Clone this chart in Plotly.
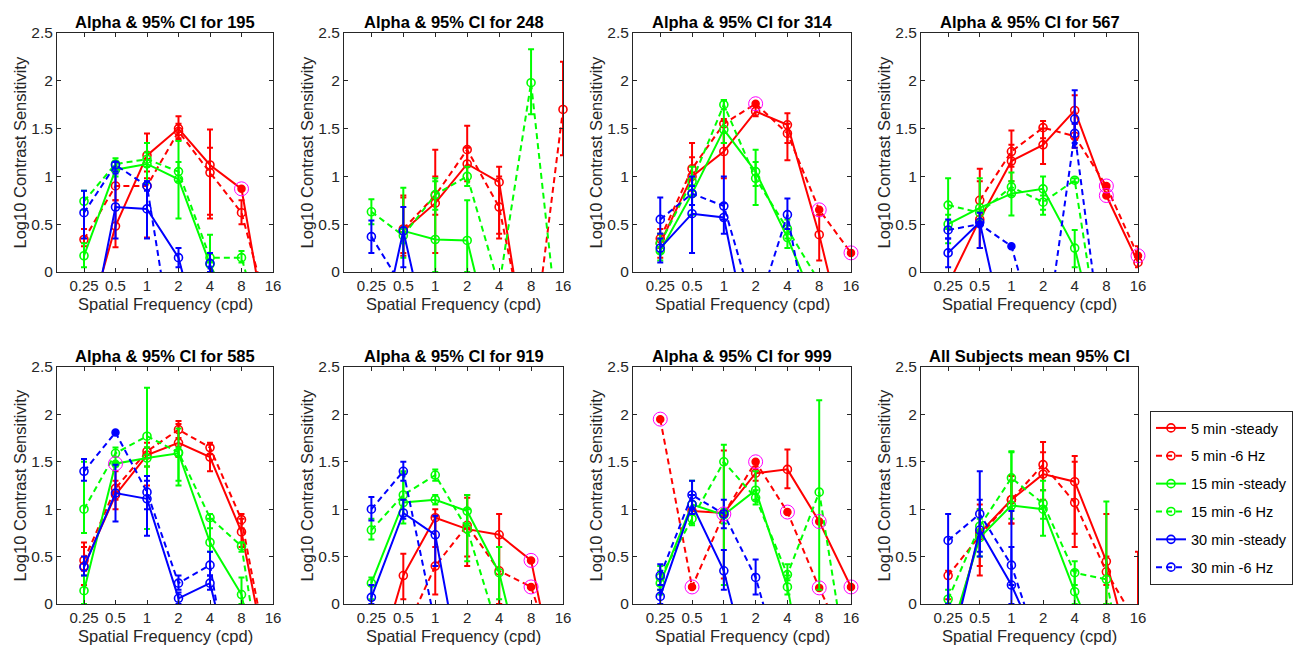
import math
import plotly.graph_objects as go

N = None

FREQS = [0.25, 0.5, 1, 2, 4, 8, 16]
FREQ_LABELS = ['0.25', '0.5', '1', '2', '4', '8', '16']
Y_TICKS = [0, 0.5, 1, 1.5, 2, 2.5]
Y_TICK_LABELS = ['0', '0.5', '1', '1.5', '2', '2.5']

SERIES_NAMES = ['5 min -steady', '5 min -6 Hz', '15 min -steady',
                '15 min -6 Hz', '30 min -steady', '30 min -6 Hz']
SERIES_COLORS = ['#FF0000', '#FF0000', '#00FF00', '#00FF00', '#0000FF', '#0000FF']
SERIES_DASH = ['solid', '6px,4px', 'solid', '6px,4px', 'solid', '6px,4px']

PANEL_TITLES = ['Alpha & 95% CI for 195', 'Alpha & 95% CI for 248',
                'Alpha & 95% CI for 314', 'Alpha & 95% CI for 567',
                'Alpha & 95% CI for 585', 'Alpha & 95% CI for 919',
                'Alpha & 95% CI for 999', 'All Subjects mean 95% CI']

# rows: 5 steady, 5 6Hz, 15 steady, 15 6Hz, 30 steady, 30 6Hz ; columns: FREQS
S195_MEAN = [
    [-0.69, 0.48, 1.22, 1.50, 1.12, 0.87, -1.02],
    [0.34, 0.90, 0.90, 1.47, 1.04, 0.62, -0.60],
    [0.17, 1.07, 1.13, 0.97, 0.08, -0.60, N],
    [0.74, 1.13, 1.18, 1.05, 0.15, 0.15, -1.00],
    [-0.98, 0.68, 0.66, 0.15, -1.10, N, N],
    [0.62, 1.12, 0.90, -1.15, 0.09, -1.00, N],
]
S195_LO = [
    [N, 0.26, 0.98, 1.38, 0.56, N, N],
    [0.27, 0.75, 0.36, 1.40, 0.60, 0.50, N],
    [0.05, 1.00, 0.93, 0.56, N, N, N],
    [0.65, 1.07, 1.10, 0.95, 0.10, 0.10, N],
    [N, 0.35, 0.35, 0.05, N, N, N],
    [0.35, 1.05, 0.85, N, 0.00, N, N],
]
S195_HI = [
    [N, 0.75, 1.45, 1.63, 1.49, N, N],
    [0.45, 1.05, 1.05, 1.55, 1.30, 0.75, N],
    [0.30, 1.15, 1.35, 1.37, N, N, N],
    [0.85, 1.19, 1.25, 1.15, 0.39, 0.22, N],
    [N, 1.03, 0.95, 0.25, N, N, N],
    [0.85, 1.15, 0.95, N, 0.20, N, N],
]
S195_FLAG = [(0, 5)]
S195_FILL = []

S248_MEAN = [
    [N, 0.43, 0.72, 1.13, 0.94, -1.15, -1.50],
    [N, 0.45, 0.80, 1.28, 0.68, -0.96, 1.70],
    [N, 0.43, 0.34, 0.33, -1.04, N, N],
    [0.63, 0.38, 0.81, 1.00, -0.15, 1.98, -1.07],
    [-1.10, 0.43, -1.05, N, N, N, N],
    [0.37, -0.17, -1.00, N, N, N, N],
]
S248_LO = [
    [N, 0.17, 0.20, 0.95, 0.40, N, N],
    [N, 0.20, 0.60, 1.10, 0.35, N, 1.22],
    [N, 0.15, 0.00, 0.00, N, N, N],
    [0.50, 0.30, 0.65, 0.90, N, 1.65, N],
    [N, 0.05, N, N, N, N, N],
    [0.20, N, N, N, N, N, N],
]
S248_HI = [
    [N, 0.80, 1.28, 1.30, 1.10, N, N],
    [N, 0.78, 1.00, 1.53, 1.00, N, 2.20],
    [N, 0.88, 0.98, 0.75, N, N, N],
    [0.76, 0.45, 0.95, 1.10, N, 2.33, N],
    [N, 0.68, N, N, N, N, N],
    [0.54, N, N, N, N, N, N],
]
S248_FLAG = []
S248_FILL = []

S314_MEAN = [
    [0.30, 1.00, 1.26, 1.68, 1.54, 0.39, -0.98],
    [0.35, 1.08, 1.55, 1.76, 1.45, 0.65, 0.20],
    [0.22, 0.82, 1.49, 1.05, 0.36, -0.44, N],
    [0.30, 0.95, 1.75, 0.98, 0.45, -0.10, N],
    [0.25, 0.61, 0.57, -1.06, N, N, N],
    [0.55, 0.82, 0.69, -0.45, 0.60, -1.16, N],
]
S314_LO = [
    [0.15, 0.90, 0.98, 1.63, 1.17, 0.12, N],
    [0.25, 0.85, 1.35, N, 1.35, N, N],
    [0.12, 0.60, 1.35, 0.70, 0.25, N, N],
    [0.20, 0.80, 1.70, 0.90, 0.35, N, N],
    [0.10, 0.20, 0.40, N, N, N, N],
    [0.40, 0.70, 0.55, N, 0.45, N, N],
]
S314_HI = [
    [0.40, 1.35, 1.58, 1.75, 1.66, 0.60, N],
    [0.45, 1.20, 1.60, N, 1.55, N, N],
    [0.35, 1.00, 1.80, 1.28, 0.45, N, N],
    [0.40, 1.10, 1.80, 1.15, 0.55, N, N],
    [0.35, 1.00, 1.00, N, N, N, N],
    [0.78, 0.90, 0.72, N, 0.77, N, N],
]
S314_FLAG = [(1, 3), (1, 5), (1, 6)]
S314_FILL = []

S567_MEAN = [
    [-0.13, 0.55, 1.16, 1.33, 1.69, 0.80, 0.10],
    [N, 0.75, 1.26, 1.51, 1.42, 0.90, 0.17],
    [0.50, 0.67, 0.82, 0.87, 0.25, -1.07, N],
    [0.70, 0.62, 0.89, 0.73, 0.96, -1.17, N],
    [0.20, 0.52, -0.97, N, 1.60, N, N],
    [0.44, 0.50, 0.27, -0.90, 1.45, -1.10, N],
]
S567_LO = [
    [N, 0.25, 0.95, 1.13, 1.40, N, 0.05],
    [N, 0.55, 1.10, 1.40, 1.30, N, N],
    [0.30, 0.55, 0.59, 0.60, 0.05, N, N],
    [0.45, N, 0.80, 0.65, 0.94, N, N],
    [0.05, 0.25, N, N, 1.30, N, N],
    [0.35, N, N, N, 1.35, N, N],
]
S567_HI = [
    [N, 1.08, 1.33, 1.50, 1.85, N, 0.27],
    [N, 0.95, 1.48, 1.58, 1.55, N, N],
    [0.60, 0.98, 1.04, 1.00, 0.44, N, N],
    [0.98, N, 0.95, 0.80, 0.98, N, N],
    [0.35, 0.62, N, N, 1.90, N, N],
    [0.55, N, N, N, 1.55, N, N],
]
S567_FLAG = [(0, 5), (1, 5), (1, 6)]
S567_FILL = [(5, 1), (5, 2)]

S585_MEAN = [
    [0.40, 1.15, 1.57, 1.70, 1.55, 0.76, -0.93],
    [0.46, 1.22, 1.61, 1.84, 1.65, 0.89, -0.85],
    [0.14, 1.48, 1.54, 1.59, 0.65, 0.10, -1.50],
    [1.00, 1.59, 1.77, 1.60, 0.91, 0.61, -1.50],
    [0.39, 1.17, 1.11, 0.06, 0.22, -1.15, N],
    [1.40, 1.81, 1.18, 0.22, 0.41, -1.54, N],
]
S585_LO = [
    [0.20, 1.00, 1.25, 1.55, 1.40, 0.60, N],
    [0.35, 1.10, 1.45, 1.75, 1.58, 0.80, N],
    [0.00, N, 1.45, 1.25, 0.55, 0.00, N],
    [0.75, 1.45, 0.79, 1.30, 0.80, 0.55, N],
    [0.30, 0.87, 0.72, 0.00, 0.15, N, N],
    [1.30, N, 1.00, 0.15, 0.30, N, N],
]
S585_HI = [
    [0.65, 1.40, 1.65, 1.90, 1.68, 0.90, N],
    [0.60, 1.30, 1.70, 1.93, 1.70, 0.95, N],
    [0.30, N, 1.65, 1.65, 0.90, 0.28, N],
    [1.50, 1.65, 2.28, 1.85, 0.95, 0.65, N],
    [0.50, 1.47, 1.30, 0.12, 0.30, N, N],
    [1.53, N, 1.35, 0.30, 0.55, N, N],
]
S585_FLAG = [(2, 1)]
S585_FILL = [(5, 1)]

S919_MEAN = [
    [-0.85, 0.30, 0.91, 0.79, 0.73, 0.46, -1.18],
    [N, -0.33, 0.40, 0.83, 0.35, 0.18, -0.82],
    [0.22, 1.07, 1.10, 0.98, 0.33, -1.04, N],
    [0.78, 1.15, 1.36, 0.79, -0.31, -1.50, N],
    [0.07, 0.96, 0.73, -1.10, N, N, N],
    [1.00, 1.40, -0.21, -1.50, N, N, N],
]
S919_LO = [
    [N, 0.05, 0.60, 0.40, 0.00, N, N],
    [N, N, 0.10, 0.50, 0.00, N, N],
    [0.05, 0.85, 1.05, 0.85, 0.05, N, N],
    [0.68, 1.10, 1.30, 0.45, N, N, N],
    [0.00, 0.90, 0.40, N, N, N, N],
    [0.88, 1.30, N, N, N, N, N],
]
S919_HI = [
    [N, 0.53, 1.00, 1.15, 0.95, N, N],
    [N, N, 0.92, 1.12, 0.60, N, N],
    [0.28, 1.38, 1.15, 1.15, 0.60, N, N],
    [0.90, 1.40, 1.42, 1.00, N, N, N],
    [0.20, 1.10, 0.93, N, N, N, N],
    [1.13, 1.50, N, N, N, N, N],
]
S919_FLAG = [(0, 5), (1, 5)]
S919_FILL = []

S999_MEAN = [
    [N, 0.98, 0.96, 1.38, 1.42, 0.87, 0.18],
    [1.95, 0.18, 0.95, 1.50, 0.97, 0.17, -0.54],
    [0.22, 1.05, 0.94, 1.20, 0.18, -1.60, N],
    [0.28, 0.90, 1.50, 1.12, 0.31, 1.18, -0.92],
    [0.08, 1.05, 0.35, -1.00, N, N, N],
    [0.30, 1.15, 0.95, 0.28, -0.89, N, N],
]
S999_LO = [
    [N, N, 0.27, 1.30, 1.22, N, N],
    [N, N, N, N, N, N, N],
    [0.10, 0.85, 0.85, 1.10, 0.10, N, N],
    [0.15, 0.83, 0.20, 1.05, 0.25, 0.15, N],
    [0.00, 0.95, 0.15, N, N, N, N],
    [0.20, 1.00, 0.80, 0.10, N, N, N],
]
S999_HI = [
    [N, N, 1.62, 1.45, 1.63, N, N],
    [N, N, N, N, N, N, N],
    [0.35, 1.15, 1.00, 1.40, 0.30, N, N],
    [0.40, 1.30, 1.68, 1.20, 0.42, 2.15, N],
    [0.15, 1.15, 0.57, N, N, N, N],
    [0.42, 1.30, 1.10, 0.47, N, N, N],
]
S999_FLAG = [(0, 5), (0, 6), (1, 0), (1, 1), (1, 2), (1, 3), (1, 4), (1, 5)]
S999_FILL = []

SALL_MEAN = [
    [-0.50, 0.75, 1.10, 1.37, 1.29, 0.45, -0.84],
    [0.30, 0.72, 1.10, 1.47, 1.07, 0.34, -0.23],
    [-0.40, 0.70, 1.04, 1.00, 0.13, -0.68, N],
    [0.05, 0.82, 1.33, 1.06, 0.33, 0.26, -1.50],
    [-0.60, 0.78, 0.20, -0.54, N, N, N],
    [0.67, 0.95, 0.41, -0.60, N, N, N],
]
SALL_LO = [
    [N, 0.30, 0.85, 1.10, 0.74, 0.00, -1.50],
    [0.05, 0.40, 0.85, 1.20, 0.60, 0.20, N],
    [N, 0.50, 0.90, 0.72, 0.00, N, N],
    [0.00, 0.70, 1.00, 0.90, 0.20, 0.00, N],
    [N, 0.50, 0.00, N, N, N, N],
    [0.00, 0.55, 0.20, N, N, N, N],
]
SALL_HI = [
    [N, 1.05, 1.30, 1.71, 1.56, 0.95, 0.55],
    [0.35, 1.00, 1.35, 1.60, 1.50, 0.50, N],
    [N, 0.90, 1.60, 1.30, 0.35, N, N],
    [0.15, 1.00, 1.61, 1.20, 0.45, 1.08, N],
    [N, 1.10, 0.98, N, N, N, N],
    [0.95, 1.40, 0.60, N, N, N, N],
]
SALL_FLAG = []
SALL_FILL = []

PANELS = [
    (S195_MEAN, S195_LO, S195_HI, S195_FLAG, S195_FILL),
    (S248_MEAN, S248_LO, S248_HI, S248_FLAG, S248_FILL),
    (S314_MEAN, S314_LO, S314_HI, S314_FLAG, S314_FILL),
    (S567_MEAN, S567_LO, S567_HI, S567_FLAG, S567_FILL),
    (S585_MEAN, S585_LO, S585_HI, S585_FLAG, S585_FILL),
    (S919_MEAN, S919_LO, S919_HI, S919_FLAG, S919_FILL),
    (S999_MEAN, S999_LO, S999_HI, S999_FLAG, S999_FILL),
    (SALL_MEAN, SALL_LO, SALL_HI, SALL_FLAG, SALL_FILL),
]

# ---------------- layout geometry (pixels) ----------------
W, H = 1296, 650
COL_PX = [(57, 273), (344, 563), (633, 851), (921, 1138)]
ROW_PX = [(33, 272), (367, 604)]
X_MIN = 0.138
Y_RANGE = [0, 2.5]
AX_COLOR = '#262626'
FONT = 'Liberation Sans, Arial, sans-serif'

fig = go.Figure()

for p, (mean, lo, hi, flags, fills) in enumerate(PANELS):
    sfx = '' if p == 0 else str(p + 1)
    xa, ya = 'x' + sfx, 'y' + sfx
    special = set(flags) | set(fills)
    for s in range(6):
        col = SERIES_COLORS[s]
        ys = mean[s]
        # connecting line (clipped to axes)
        fig.add_trace(go.Scatter(
            x=FREQS, y=ys, mode='lines', xaxis=xa, yaxis=ya,
            line=dict(color=col, width=2, dash=SERIES_DASH[s]),
            connectgaps=False, showlegend=False, hoverinfo='skip'))
        # error bars
        ex, ey, ep, em = [], [], [], []
        for i, f in enumerate(FREQS):
            if ys[i] is not None and lo[s][i] is not None and hi[s][i] is not None:
                ex.append(f)
                ey.append(ys[i])
                ep.append(hi[s][i] - ys[i])
                em.append(ys[i] - lo[s][i])
        if ex:
            fig.add_trace(go.Scatter(
                x=ex, y=ey, mode='markers', xaxis=xa, yaxis=ya,
                marker=dict(size=1, color='rgba(0,0,0,0)'),
                error_y=dict(type='data', symmetric=False, array=ep, arrayminus=em,
                             color=col, thickness=2, width=3),
                cliponaxis=True, showlegend=False, hoverinfo='skip'))
        # open circle markers for in-range points
        mx, my = [], []
        for i, f in enumerate(FREQS):
            v = ys[i]
            if v is not None and Y_RANGE[0] <= v <= Y_RANGE[1] and (s, i) not in special:
                mx.append(f)
                my.append(v)
        if mx:
            fig.add_trace(go.Scatter(
                x=mx, y=my, mode='markers', xaxis=xa, yaxis=ya,
                marker=dict(symbol='circle-open', size=8, color=col, line=dict(width=1.6, color=col)),
                cliponaxis=False, showlegend=False, hoverinfo='skip'))
        # filled markers (no CI)
        fx = [FREQS[i] for (ss, i) in special if ss == s and mean[s][i] is not None]
        fy = [mean[s][i] for (ss, i) in special if ss == s and mean[s][i] is not None]
        if fx:
            fig.add_trace(go.Scatter(
                x=fx, y=fy, mode='markers', xaxis=xa, yaxis=ya,
                marker=dict(symbol='circle', size=7, color=col, line=dict(width=1.5, color=col)),
                cliponaxis=False, showlegend=False, hoverinfo='skip'))
    # magenta rings for flagged points
    rx = [FREQS[i] for (s, i) in flags]
    ry = [mean[s][i] for (s, i) in flags]
    if rx:
        fig.add_trace(go.Scatter(
            x=rx, y=ry, mode='markers', xaxis=xa, yaxis=ya,
            marker=dict(symbol='circle-open', size=14, color='#FF00FF', line=dict(width=1, color='#FF00FF')),
            cliponaxis=False, showlegend=False, hoverinfo='skip'))

# legend entries
for s in range(6):
    fig.add_trace(go.Scatter(
        x=[None], y=[None], mode='lines+markers', name=SERIES_NAMES[s],
        legendgroup='g%d' % s,
        line=dict(color=SERIES_COLORS[s], width=2, dash=SERIES_DASH[s]),
        marker=dict(symbol='circle-open', size=8, color=SERIES_COLORS[s], line=dict(width=1.6)),
        showlegend=True, hoverinfo='skip'))

annotations = []
layout = dict(
    width=W, height=H, autosize=False,
    margin=dict(l=0, r=0, t=0, b=0, pad=0, autoexpand=False),
    paper_bgcolor='white', plot_bgcolor='white',
    font=dict(family=FONT, color=AX_COLOR),
    showlegend=True,
    legend=dict(x=1150 / W, y=1 - 411 / H, xanchor='left', yanchor='top',
                bgcolor='white', bordercolor=AX_COLOR, borderwidth=1,
                font=dict(family=FONT, size=14.5, color='#000000'),
                tracegroupgap=6, traceorder='grouped', itemwidth=30),
)

for p in range(8):
    r, c = divmod(p, 4)
    x0, x1 = COL_PX[c]
    y0, y1 = ROW_PX[r]
    sfx = '' if p == 0 else str(p + 1)
    layout['xaxis' + sfx] = dict(
        type='log', range=[math.log10(X_MIN), math.log10(16)],
        domain=[x0 / W, x1 / W], anchor='y' + sfx,
        tickvals=FREQS, ticktext=FREQ_LABELS, ticks='inside', ticklen=4,
        tickcolor=AX_COLOR, showline=True, linecolor=AX_COLOR, linewidth=1,
        mirror='allticks', showgrid=False, zeroline=False, automargin=False,
        tickfont=dict(family=FONT, size=15, color=AX_COLOR))
    layout['yaxis' + sfx] = dict(
        range=Y_RANGE, domain=[1 - y1 / H, 1 - y0 / H], anchor='x' + sfx,
        tickvals=Y_TICKS, ticktext=Y_TICK_LABELS, ticks='inside', ticklen=4,
        tickcolor=AX_COLOR, showline=True, linecolor=AX_COLOR, linewidth=1,
        mirror='allticks', showgrid=False, zeroline=False, automargin=False,
        tickfont=dict(family=FONT, size=15.5, color=AX_COLOR))
    cx = (x0 + x1) / 2 / W
    # panel title
    annotations.append(dict(
        text='<b>' + PANEL_TITLES[p] + '</b>', x=cx, y=1 - (y0 - 11) / H,
        xref='paper', yref='paper', xanchor='center', yanchor='middle',
        showarrow=False, font=dict(family=FONT, size=16.5, color='#000000')))
    # x axis title
    annotations.append(dict(
        text='Spatial Frequency (cpd)', x=cx, y=1 - (y1 + 32) / H,
        xref='paper', yref='paper', xanchor='center', yanchor='middle',
        showarrow=False, font=dict(family=FONT, size=16.5, color=AX_COLOR)))
    # y axis title
    annotations.append(dict(
        text='Log10 Contrast Sensitivity', x=(x0 - 38) / W, y=1 - (y0 + y1) / 2 / H,
        xref='paper', yref='paper', xanchor='center', yanchor='middle', textangle=-90,
        showarrow=False, font=dict(family=FONT, size=16.5, color=AX_COLOR)))

layout['annotations'] = annotations
fig.update_layout(**layout)

fig.write_html('out.html')
